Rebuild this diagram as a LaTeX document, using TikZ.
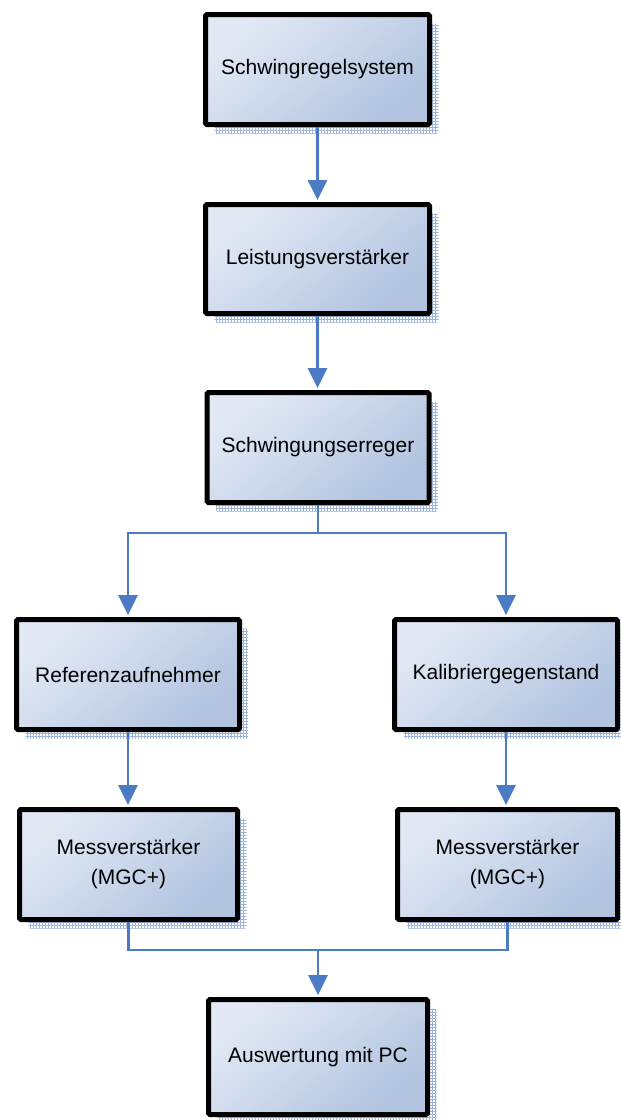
\documentclass[tikz,border=0pt]{standalone}
\usepackage{fontspec}
\setmainfont{Liberation Sans}
\usetikzlibrary{arrows.meta,patterns,shadows}
\definecolor{boxlight}{HTML}{E2E9F5}
\definecolor{boxdark}{HTML}{B1C3DF}
\definecolor{shadowgrid}{HTML}{9DB4DC}
\definecolor{linkblue}{HTML}{4A7BC4}
\tikzset{
  stepbox/.style={draw=black, line width=5pt, rounded corners=1.5pt,
    top color=boxlight, bottom color=boxdark, shading angle=40,
    minimum width=222pt, minimum height=110pt, align=center,
    font=\fontsize{21}{30}\selectfont,
    general shadow={shadow xshift=9pt, shadow yshift=-9pt,
      pattern=grid, pattern color=shadowgrid, draw=none}},
  conn/.style={draw=linkblue, line width=2.8pt},
  arrow/.style={conn, -{Triangle[length=20pt,width=19pt]}, shorten >=2pt},
}
\begin{document}
\begin{tikzpicture}[x=1pt,y=-1pt]
\useasboundingbox (0,0) rectangle (621,1120);
\node[stepbox, minimum width=224pt] (regel) at (317.5,69.5) {Schwingregelsystem};
\node[stepbox, minimum width=224pt, minimum height=109pt] (leist) at (317.5,259) {Leistungsverstärker};
\node[stepbox] (erreger) at (318,447.5) {Schwingungserreger};
\node[stepbox, minimum width=223pt] (ref) at (128,674.5) {Referenzaufnehmer};
\node[stepbox, minimum width=223pt] (kal) at (506,674.5) {Kalibriergegenstand};
\node[stepbox, minimum width=218pt] (mvl) at (128.5,864.5) {Messverstärker\\(MGC+)};
\node[stepbox, minimum width=220pt] (mvr) at (507.5,864.5) {Messverstärker\\(MGC+)};
\node[stepbox, minimum width=219pt, minimum height=115pt] (pc) at (318,1057) {Auswertung mit PC};

\coordinate (split) at (318,533);
\coordinate (merge) at (318,950);

\draw[arrow] (regel.south) -- (regel.south |- leist.north);
\draw[arrow] (leist.south) -- (leist.south |- erreger.north);
\draw[conn] (erreger.south) -- (split);
\draw[arrow] (split) -| (ref.north);
\draw[arrow] (split) -| (kal.north);
\draw[arrow] (ref.south) -- (ref.south |- mvl.north);
\draw[arrow] (kal.south) -- (kal.south |- mvr.north);
\draw[conn, line width=2.2pt] (mvl.south) |- (merge);
\draw[conn, line width=2.2pt] (mvr.south) |- (merge);
\draw[arrow] (merge) -- (merge |- pc.north);
\end{tikzpicture}
\end{document}
